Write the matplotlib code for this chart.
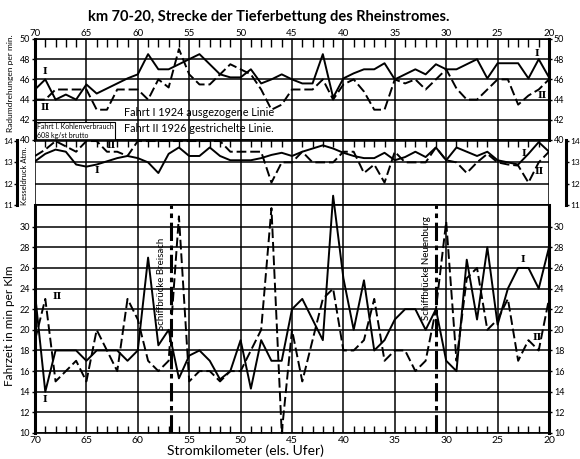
import matplotlib
matplotlib.use("Agg")
import matplotlib.pyplot as plt
from matplotlib.ticker import MultipleLocator

plt.rcParams['font.family'] = ['Lato', 'DejaVu Sans']

# Stromkilometer 70 -> 20
km = list(range(70, 19, -1))

# Radumdrehungen per min.
rpm_1924 = [45, 46, 44, 44.5, 44, 45.5, 44.6, 45.1, 45.6, 46.1,
            46.5, 48.5, 47, 47, 47.5, 48, 48.5, 47.5, 46.5, 46.2,
            46.2, 47, 45.6, 46, 46.5, 46, 45.6, 45.6, 48.5, 44.2,
            46.1, 46.6, 47, 47, 47.6, 46, 46.5, 47, 46.5, 47.5,
            47, 47, 47.5, 48, 46.1, 47.6, 47.6, 47.6, 46.1, 48,
            46.2]
rpm_1926 = [44, 44, 45, 45, 45, 45, 43, 43, 45, 45,
            45, 44, 46, 45.2, 49, 46.5, 45.5, 45.5, 46.5, 47.5,
            47, 46.5, 45, 43, 43.5, 45, 45, 45, 46, 44,
            45.5, 46, 44.8, 43, 43, 46, 45.6, 46, 45, 46,
            47, 45.1, 44, 44, 45, 46, 46, 43.5, 44.4, 45,
            46]

# Kesseldruck Atm.
press_1924 = [13.05, 13.4, 13.6, 13.5, 12.9, 12.8, 12.9, 13.05, 13.2, 13.3,
              13.2, 13.0, 12.5, 13.4, 13.7, 13.3, 13.3, 13.7, 13.3, 13.1,
              13.1, 13.1, 13.2, 13.35, 13.45, 13.3, 13.5, 13.65, 13.8, 13.65,
              13.45, 13.3, 13.2, 13.2, 13.45, 13.1, 13.25, 13.5, 13.25, 13.7,
              13.1, 13.7, 13.5, 13.3, 13.5, 13.1, 13.0, 12.9, 13.4, 13.95,
              13.5]
press_1926 = [13.3, 13.6, 14, 13.75, 13.5, 14, 14, 13.5, 13.5, 13.3,
              14, 14, 14, 14, 14, 14, 14, 14, 14, 13.5,
              13.5, 13.5, 13.5, 12.05, 13.0, 13.0, 13.5, 13.0, 13.0, 13.0,
              13.5, 13.5, 12.5, 12.9, 12.05, 13.5, 13.0, 13.0, 13.0, 13.7,
              13.1, 13.0, 12.5, 13.0, 13.4, 13.0, 12.9, 12.85, 12.05, 13.0,
              13.5]

# Fahrzeit in min per km
time_1924 = [23.5, 14, 18, 18, 18, 17, 18, 18, 18, 17,
             18, 27, 18.5, 20, 15.3, 17.5, 18, 17, 15.2, 16,
             19, 14.3, 19, 17, 17, 22, 23, 21, 19, 33,
             25, 20, 24.8, 18, 19, 21, 22, 22, 20, 22,
             17, 16, 26.8, 21, 28, 20.5, 24, 26, 26, 24,
             28]
time_1926 = [19, 23, 15, 16, 17, 15, 20, 18, 16, 23,
             21, 17, 16, 17, 31, 15, 16, 16, 15, 16,
             16, 18, 20, 31.8, 10, 20, 15, 19, 23, 24,
             18, 18, 19, 23, 17, 18, 18, 16, 17, 22,
             30.5, 17, 25, 26, 20, 21, 23, 17, 19, 18,
             23]

bridges = {"Schiffbrücke Breisach": 56.8, "Schiffbrücke Neuenburg": 31.0}

fig = plt.figure(figsize=(5.8, 4.59), dpi=100)
x0, w = 35 / 580, 514 / 580
ax1 = fig.add_axes([x0, 1 - 140 / 459, w, 101 / 459])
ax2 = fig.add_axes([x0, 1 - 205 / 459, w, 65 / 459], sharex=ax1)
ax3 = fig.add_axes([x0, 1 - 433 / 459, w, 228 / 459], sharex=ax1)

dash = (0, (5, 2))
lw = 1.4
ax1.plot(km, rpm_1924, color='k', lw=lw)
ax1.plot(km, rpm_1926, color='k', lw=lw, ls=dash)
ax2.plot(km, press_1924, color='k', lw=lw)
ax2.plot(km, press_1926, color='k', lw=lw, ls=dash)
ax3.plot(km, time_1924, color='k', lw=lw, clip_on=False)
ax3.plot(km, time_1926, color='k', lw=lw, ls=dash, clip_on=False)

ax1.set_xlim(70, 20)
ax1.set_ylim(40, 50)
ax2.set_ylim(11, 14.05)
ax3.set_ylim(10, 32.1)

for ax in (ax1, ax2, ax3):
    ax.xaxis.set_major_locator(MultipleLocator(5))
    ax.xaxis.set_minor_locator(MultipleLocator(1))
    ax.grid(True, which='major', color='k', lw=1.1)
    ax.tick_params(axis='y', which='both', left=True, right=True,
                   labelleft=True, labelright=True, length=2, width=1,
                   labelsize=6.5, pad=1.5)
    for s in ax.spines.values():
        s.set_linewidth(1.2)
    ax.spines['left'].set_linewidth(2.2)
    ax.spines['right'].set_linewidth(2.2)

ax1.set_yticks([40, 42, 44, 46, 48, 50])
ax2.set_yticks([11, 12, 13, 14])
ax3.set_yticks(list(range(10, 31, 2)))

# x ticks
ax1.tick_params(axis='x', which='major', top=True, bottom=False, labeltop=True,
                labelbottom=False, length=0, labelsize=7, pad=1)
ax1.tick_params(axis='x', which='minor', top=True, bottom=False, direction='in', length=6, width=1)
ax2.tick_params(axis='x', which='major', top=False, bottom=False, labeltop=False,
                labelbottom=False, length=0)
ax2.tick_params(axis='x', which='minor', top=True, bottom=False, direction='in', length=5, width=1)
ax3.tick_params(axis='x', which='major', top=False, bottom=False, labelbottom=True,
                length=0, labelsize=7.5, pad=2)
ax3.tick_params(axis='x', which='minor', top=False, bottom=True, direction='in', length=5, width=1)

ax2.spines['left'].set_position(('outward', 13))
ax2.spines['right'].set_position(('outward', 12))
ax2.tick_params(axis='y', labelsize=6, pad=1)

# axis labels
ax1.set_ylabel("Radumdrehungen per min.", fontsize=6)
ax1.yaxis.set_label_coords(-0.04, 0.56)
ax2.set_ylabel("Kesseldruck Atm.", fontsize=5.5)
ax2.yaxis.set_label_coords(-0.013, 0.45)
ax3.set_ylabel("Fahrzeit in min per Klm", fontsize=8.5)
ax3.yaxis.set_label_coords(-0.039, 0.47)
ax3.set_xlabel("Stromkilometer (els. Ufer)", fontsize=10)
ax3.xaxis.set_label_coords(0.41, -0.05)

fig.text(0.463, 0.962, "km 70-20, Strecke der Tieferbettung des Rheinstromes.",
         ha='center', va='center', fontsize=10.5, fontweight='bold')

# legend texts
ax1.text(61.3, 42.7, "Fahrt I 1924 ausgezogene Linie", fontsize=7.8, va='center')
ax1.text(61.3, 41.1, "Fahrt II 1926 gestrichelte Linie.", fontsize=7.8, va='center')
ax1.text(69.8, 40.9, "Fahrt I. Kohlenverbrauch\n608 kg/st brutto", fontsize=5,
         va='center', ha='left', linespacing=1.4,
         bbox=dict(boxstyle='square,pad=0.15', fc='white', ec='k', lw=0.8))

# series markers I / II
roman = dict(family='DejaVu Serif', fontweight='bold', fontsize=7, ha='center', va='center')
ax1.text(69, 46.8, "I", **roman)
ax1.text(69, 43.2, "II", **roman)
ax1.text(21.2, 48.6, "I", **roman)
ax1.text(20.7, 44.4, "II", **roman)
ax2.text(62.6, 13.8, "II", **roman)
ax2.text(64, 12.6, "I", **roman)
ax2.text(22.4, 13.4, "I", **roman)
ax2.text(21.0, 12.55, "II", **roman)
ax3.text(67.8, 23.2, "II", **roman)
ax3.text(69, 13.2, "I", **roman)
ax3.text(22.5, 26.8, "I", **roman)
ax3.text(21.2, 19.3, "II", **roman)

# bridges
for name, pos in bridges.items():
    ax3.axvline(pos, color='k', lw=2.2, ls=(0, (6, 1.5, 1.5, 1.5)))
    ax3.text(pos + 0.9, 24.5 if 'Breisach' in name else 26.0, name, rotation=90,
             fontsize=7, ha='center', va='center')

fig.savefig("out.png", dpi=100, facecolor='white')
